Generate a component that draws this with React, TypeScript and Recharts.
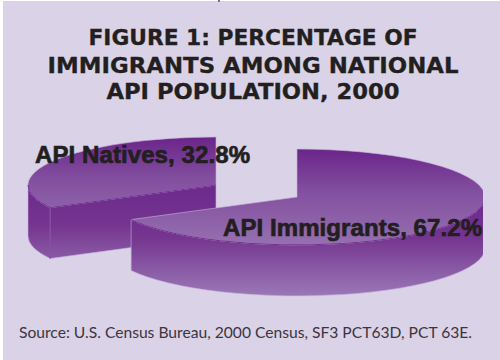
import { PieChart, Pie } from "recharts";

const sliceNames = ["API Natives", "API Immigrants"];
const sliceValues = [32.8, 67.2];
const titleLines = [
  "FIGURE 1: PERCENTAGE OF",
  "IMMIGRANTS AMONG NATIONAL",
  "API POPULATION, 2000",
];
const sourceNote = "Source: U.S. Census Bureau, 2000 Census, SF3 PCT63D, PCT 63E.";

const data = sliceNames.map((name, i) => ({ name, value: sliceValues[i] }));

const TILT = 0.255;
const DEPTH = 51;
const INK = "#231f20";
const HEAVY_FONT = "'DejaVu Sans', sans-serif";
const LABEL_FONT = "'Liberation Sans', sans-serif";
const EDGE_LIGHT = "#c9aedb";
const EDGE_DARK = "#6f2f8e";

// the natives wedge is pulled out up and to the left
const explode: Record<string, { dx: number; dy: number }> = {
  "API Natives": { dx: -81, dy: -12 },
  "API Immigrants": { dx: 0, dy: 0 },
};

const labelSpots: Record<string, { x: number; y: number; width: number }> = {
  "API Natives": { x: 35, y: 163, width: 215 },
  "API Immigrants": { x: 223, y: 236, width: 259 },
};

const rad = (deg: number) => (deg * Math.PI) / 180;

const Wedge3D = (props: any) => {
  const { startAngle, endAngle, outerRadius: rx, name, index } = props;
  const off = explode[name] ?? explode[props.payload?.name] ?? { dx: 0, dy: 0 };
  const cx = props.cx + off.dx;
  const cy = props.cy + off.dy;
  const ry = rx * TILT;
  const pt = (deg: number, drop = 0) => [
    cx + rx * Math.cos(rad(deg)),
    cy - ry * Math.sin(rad(deg)) + drop,
  ];
  const arc = (from: number, to: number, drop = 0) => {
    const [x, y] = pt(to, drop);
    const large = Math.abs(from - to) > 180 ? 1 : 0;
    const sweep = from > to ? 1 : 0;
    return `A${rx} ${ry} 0 ${large} ${sweep} ${x} ${y}`;
  };

  const [sx, sy] = pt(startAngle);
  const top = `M${cx} ${cy}L${sx} ${sy}${arc(startAngle, endAngle)}Z`;

  // outer rim: only the parts of the arc on the near half of the ellipse
  const rims: string[] = [];
  const rimEdges: string[] = [];
  [[-180, 0], [180, 360]].forEach(([lo, hi]) => {
    const a = Math.min(startAngle, hi);
    const b = Math.max(endAngle, lo);
    if (a > b) {
      const [ax, ay] = pt(a);
      const [bx, by] = pt(b, DEPTH);
      rims.push(`M${ax} ${ay}${arc(a, b)}L${bx} ${by}${arc(b, a, DEPTH)}Z`);
      rimEdges.push(`M${ax} ${ay}${arc(a, b)}`);
    }
  });

  // cut face along the start radius, when it turns toward the viewer
  const hasFace = Math.cos(rad(startAngle)) < -0.01;
  const face = `M${cx} ${cy}L${sx} ${sy}L${sx} ${sy + DEPTH}L${cx} ${cy + DEPTH}Z`;

  const topId = `top-${index}`;
  const wallId = `wall-${index}`;
  const clipId = `cut-${index}`;

  return (
    <g clipPath={`url(#${clipId})`}>
      <defs>
        {/* the pie's right edge is sliced off flat */}
        <clipPath id={clipId}>
          <rect x={0} y={0} width={483} height={360} />
        </clipPath>
        <linearGradient id={topId} gradientUnits="userSpaceOnUse" x1="0" x2="0" y1={cy - ry} y2={cy + ry}>
          <stop offset="0" stopColor="#6a258a" />
          <stop offset="0.45" stopColor="#83509f" />
          <stop offset="1" stopColor="#9670b0" />
        </linearGradient>
        <linearGradient id={wallId} gradientUnits="userSpaceOnUse" x1="0" x2="0" y1={cy} y2={cy + ry + DEPTH}>
          <stop offset="0" stopColor="#6c2a8c" />
          <stop offset="0.4" stopColor="#74348f" />
          <stop offset="1" stopColor="#9a78b6" />
        </linearGradient>
      </defs>
      {hasFace && <path d={face} fill={`url(#${wallId})`} stroke={EDGE_LIGHT} strokeWidth={0.6} />}
      {rims.map((d) => (
        <path key={d} d={d} fill={`url(#${wallId})`} stroke={EDGE_LIGHT} strokeWidth={0.6} />
      ))}
      {hasFace && <path d={`M${sx} ${sy}L${sx} ${sy + DEPTH}`} stroke={EDGE_DARK} strokeWidth={1} />}
      <path d={top} fill={`url(#${topId})`} stroke={EDGE_LIGHT} strokeWidth={0.6} />
      {rimEdges.map((d) => (
        <path key={d} d={d} fill="none" stroke={EDGE_DARK} strokeWidth={1} />
      ))}
      {hasFace && <path d={`M${cx} ${cy}L${sx} ${sy}`} stroke={EDGE_DARK} strokeWidth={1} />}
    </g>
  );
};

const SliceLabel = (props: any) => {
  const spot = labelSpots[props.name];
  return (
    <text
      x={spot.x}
      y={spot.y}
      textLength={spot.width}
      fontFamily={LABEL_FONT}
      fontWeight={700}
      fontSize={24}
      fill={INK}
      stroke={INK}
      strokeWidth={0.7}
    >
      {`${props.name}, ${props.value}%`}
    </text>
  );
};

const titleWidths = [329, 411, 293];
const titleBaselines = [45, 73, 99];

export default function App() {
  // angles are laid out so the big slice starts at 12 o'clock going clockwise
  const startAngle = 90 + (sliceValues[0] / 100) * 360;
  return (
    <div style={{ position: "absolute", left: 0, top: 0, width: 500, height: 360, background: "#fff", overflow: "hidden" }}>
      <div style={{ position: "absolute", left: 3, top: 1, width: 497, height: 359, background: "#dad2e6" }} />
      <div style={{ position: "absolute", left: 218, top: 0, width: 2, height: 2, background: "#8a5fa8" }} />
      <div style={{ position: "absolute", left: 0, top: 0 }}>
        <PieChart width={500} height={360} margin={{ top: 0, right: 0, bottom: 0, left: 0 }}>
          <Pie
            data={data}
            dataKey="value"
            nameKey="name"
            cx={297}
            cy={197}
            innerRadius={0}
            outerRadius={188}
            startAngle={startAngle}
            endAngle={startAngle - 360}
            stroke="none"
            shape={Wedge3D}
            label={SliceLabel}
            labelLine={false}
            isAnimationActive={false}
          />
        </PieChart>
      </div>
      <svg width={500} height={360} style={{ position: "absolute", left: 0, top: 0 }}>
        {titleLines.map((line, i) => (
          <text
            key={line}
            x={253}
            y={titleBaselines[i]}
            textAnchor="middle"
            textLength={titleWidths[i]}
            lengthAdjust="spacingAndGlyphs"
            fontFamily={HEAVY_FONT}
            fontWeight={700}
            fontSize={21}
            fill={INK}
            stroke={INK}
            strokeWidth={0.3}
          >
            {line}
          </text>
        ))}
        <text x={19} y={338} textLength={453} lengthAdjust="spacingAndGlyphs" fontFamily="Lato, sans-serif" fontSize={15} fill="#3a3540">
          {sourceNote}
        </text>
      </svg>
    </div>
  );
}
